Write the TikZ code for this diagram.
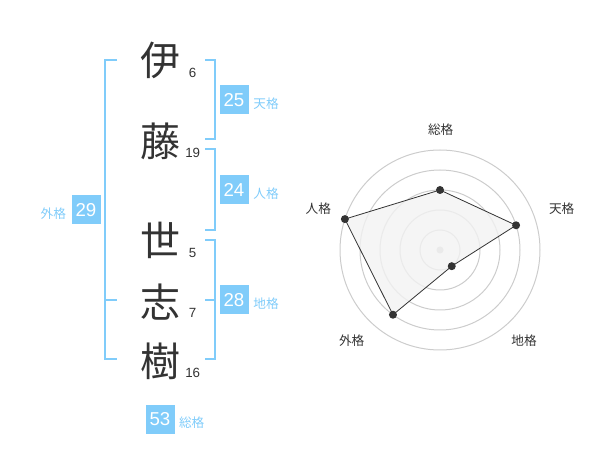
\documentclass[tikz,border=0pt]{standalone}
\usepackage{fontspec}
\setmainfont{Liberation Sans}
\newfontfamily\jpfont{Noto Sans CJK JP}
\definecolor{kakublue}{RGB}{128,204,250}
\definecolor{ink}{RGB}{51,51,51}
\definecolor{ringgray}{RGB}{204,204,204}
\definecolor{areagray}{RGB}{242,242,242}
\tikzset{
	kanji/.style={font=\jpfont\fontsize{30}{30}\selectfont, text=ink, inner sep=0pt},
	kakusu/.style={font=\fontsize{10}{10}\selectfont, text=ink, inner sep=0pt},
	kakubox/.style={fill=kakublue, text=white, minimum size=21.75pt, inner sep=0pt, font=\fontsize{14}{14}\selectfont},
	kakuname/.style={font=\jpfont\fontsize{9.5}{9.5}\selectfont, text=kakublue, inner sep=0pt},
	bracket/.style={draw=kakublue, line width=1.5pt},
	axisname/.style={font=\jpfont\fontsize{9.5}{9.5}\selectfont, text=ink, inner sep=0pt},
	ring/.style={draw=ringgray, line width=0.75pt},
	dot/.style={circle, fill=ink, inner sep=0pt, minimum size=6pt}
}

\begin{document}
\begin{tikzpicture}[x=0.75pt, y=-0.75pt]
	\useasboundingbox (0, 0) rectangle (600, 470);

	% Имя
	\node[kanji] (sei1) at (160, 60) {伊};
	\node[kanji] (sei2) at (160, 141.7) {藤};
	\node[kanji] (mei1) at (160, 240) {世};
	\node[kanji] (mei2) at (160, 301.7) {志};
	\node[kanji] (mei3) at (160, 361.7) {樹};

	\begin{scriptsize}
		\node[kakusu] (n1) at (192.7, 72.7) {6};
		\node[kakusu] (n2) at (192.7, 152.7) {19};
		\node[kakusu] (n3) at (192.7, 253.3) {5};
		\node[kakusu] (n4) at (192.7, 312.7) {7};
		\node[kakusu] (n5) at (192.7, 372.7) {16};
	\end{scriptsize}

	% Скобки
	\draw[bracket] (117, 60) -- (105, 60) -- (105, 359.3) -- (117, 359.3); % Внешняя
	\draw[bracket] (105, 300) -- (117, 300);
	\draw[bracket] (205, 60) -- (215, 60) -- (215, 139.3) -- (205, 139.3);
	\draw[bracket] (205, 149.3) -- (215, 149.3) -- (215, 230) -- (205, 230);
	\draw[bracket] (205, 240) -- (215, 240) -- (215, 359.3) -- (205, 359.3);
	\draw[bracket] (205, 300) -- (215, 300);

	% Числа
	\node[kakubox] (ten) at (234, 100) {25};
	\node[kakuname] (tenname) at (266, 103.5) {天格};
	\node[kakubox] (jin) at (234, 190) {24};
	\node[kakuname] (jinname) at (266, 193.5) {人格};
	\node[kakubox] (chi) at (234, 300) {28};
	\node[kakuname] (chiname) at (266, 303.5) {地格};
	\node[kakubox] (gai) at (86, 210) {29};
	\node[kakuname] (gainame) at (53.3, 213.5) {外格};
	\node[kakubox] (sou) at (160, 419.5) {53};
	\node[kakuname] (souname) at (191.7, 422.5) {総格};

	% Диаграмма
	\begin{scope}[shift={(440, 250)}, x=0.75pt, y=0.75pt]
		\foreach \r in {20, 40, 60, 80, 100}
			\draw[ring] (0, 0) circle (\r);
		\fill[ringgray] (0, 0) circle (3.5);

		\coordinate (psou) at (90:60);
		\coordinate (pten) at (18:80);
		\coordinate (pchi) at (-54:20);
		\coordinate (pgai) at (-126:80);
		\coordinate (pjin) at (162:100);

		\draw[ink, fill=areagray, fill opacity=0.8, line width=0.6pt] (psou) -- (pten) -- (pchi) -- (pgai) -- (pjin) -- cycle;
		\foreach \p in {psou, pten, pchi, pgai, pjin}
			\node[dot] at (\p) {};

		\node[axisname] (asou) at (0.7, 120) {総格};
		\node[axisname] (aten) at (121.7, 41.7) {天格};
		\node[axisname] (achi) at (84, -91) {地格};
		\node[axisname] (agai) at (-88.3, -91) {外格};
		\node[axisname] (ajin) at (-121.7, 41) {人格};
	\end{scope}
\end{tikzpicture}
\end{document}
